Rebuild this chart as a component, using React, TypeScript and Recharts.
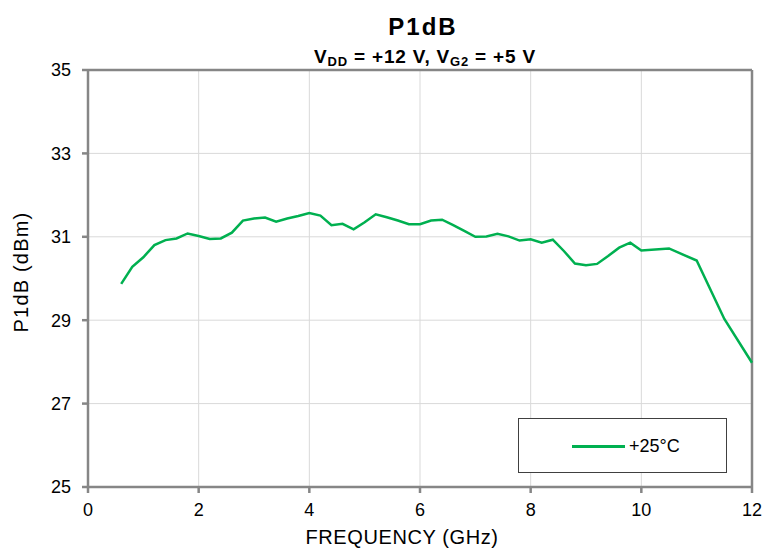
import React from "react";
import { LineChart, Line, XAxis, YAxis, CartesianGrid, ReferenceLine } from "recharts";

const freqGHz = [0.6, 0.8, 1.0, 1.2, 1.4, 1.6, 1.8, 2.0, 2.2, 2.4, 2.6, 2.8, 3.0, 3.2, 3.4, 3.6, 3.8, 4.0, 4.2, 4.4, 4.6, 4.8, 5.0, 5.2, 5.4, 5.6, 5.8, 6.0, 6.2, 6.4, 6.6, 6.8, 7.0, 7.2, 7.4, 7.6, 7.8, 8.0, 8.2, 8.4, 8.6, 8.8, 9.0, 9.2, 9.4, 9.6, 9.8, 10.0, 10.5, 11.0, 11.5, 12.0];
const p1dB25C = [29.87, 30.28, 30.51, 30.8, 30.92, 30.96, 31.08, 31.02, 30.95, 30.96, 31.1, 31.39, 31.44, 31.46, 31.36, 31.44, 31.5, 31.57, 31.51, 31.28, 31.31, 31.18, 31.35, 31.54, 31.47, 31.39, 31.3, 31.3, 31.39, 31.41, 31.28, 31.14, 31.0, 31.01, 31.07, 31.01, 30.91, 30.94, 30.86, 30.93, 30.66, 30.36, 30.32, 30.35, 30.54, 30.74, 30.86, 30.67, 30.72, 30.43, 29.03, 27.98];
const xTicks = [0, 2, 4, 6, 8, 10, 12];
const yTicks = [25, 27, 29, 31, 33, 35];
const seriesName = "+25°C";
const xLabel = "FREQUENCY (GHz)";
const yLabel = "P1dB (dBm)";

const data = freqGHz.map((f, i) => ({ f, v: p1dB25C[i] }));

const FONT = "'Liberation Sans', Arial, sans-serif";
const AXIS = "#868686";
const GREEN = "#00b050";

export default function App() {
  return (
    <div style={{ position: "absolute", left: 0, top: 0, width: 768, height: 548, background: "#fff", fontFamily: FONT, overflow: "hidden" }}>
      <div style={{ position: "absolute", left: 0, width: 846, top: 15, textAlign: "center", fontSize: 24, fontWeight: "bold", lineHeight: "24px", letterSpacing: 2 }}>
        P1dB
      </div>
      <div style={{ position: "absolute", left: 0, width: 850, top: 47, textAlign: "center", fontSize: 19, fontWeight: "bold", lineHeight: "19px", letterSpacing: 0.8 }}>
        V<sub style={{ fontSize: 13, verticalAlign: "-3px", lineHeight: 0 }}>DD</sub> = +12 V, V<sub style={{ fontSize: 13, verticalAlign: "-3px", lineHeight: 0 }}>G2</sub> = +5 V
      </div>
      <LineChart width={768} height={548} data={data} margin={{ top: 70, right: 16, bottom: 0, left: 0 }}>
        <CartesianGrid stroke="#d9d9d9" strokeWidth={1} />
        <XAxis
          dataKey="f"
          type="number"
          domain={[0, 12]}
          ticks={xTicks}
          height={61}
          stroke={AXIS}
          strokeWidth={2.5}
          tickSize={6}
          tickMargin={10}
          tick={{ fill: "#000", fontSize: 18, fontFamily: FONT }}
        />
        <YAxis
          type="number"
          domain={[25, 35]}
          ticks={yTicks}
          width={88}
          stroke={AXIS}
          strokeWidth={2.5}
          tickSize={6}
          tickMargin={11}
          tick={{ fill: "#000", fontSize: 18, fontFamily: FONT }}
        />
        <ReferenceLine y={35} stroke={AXIS} strokeWidth={2.5} />
        <ReferenceLine x={12} stroke={AXIS} strokeWidth={2.5} />
        <Line
          dataKey="v"
          name={seriesName}
          stroke={GREEN}
          strokeWidth={2.5}
          dot={false}
          isAnimationActive={false}
        />
      </LineChart>
      <div
        style={{
          position: "absolute",
          left: 402,
          top: 527,
          transform: "translateX(-50%)",
          whiteSpace: "nowrap",
          fontSize: 20,
          lineHeight: "20px",
          letterSpacing: 0.6,
          color: "#000",
        }}
      >
        {xLabel}
      </div>
      <div
        style={{
          position: "absolute",
          left: 21,
          top: 272,
          transform: "translate(-50%, -50%) rotate(-90deg)",
          whiteSpace: "nowrap",
          fontSize: 20,
          lineHeight: "20px",
          letterSpacing: 1.2,
          color: "#000",
        }}
      >
        {yLabel}
      </div>
      <div
        style={{
          position: "absolute",
          left: 518,
          top: 418,
          width: 207,
          height: 53,
          border: "1px solid #404040",
          background: "#fff",
        }}
      >
        <div style={{ position: "absolute", left: 53, top: 26, width: 53, height: 2.5, background: GREEN }} />
        <div style={{ position: "absolute", left: 110, top: 17, fontSize: 18, lineHeight: "20px", color: "#000" }}>{seriesName}</div>
      </div>
    </div>
  );
}
